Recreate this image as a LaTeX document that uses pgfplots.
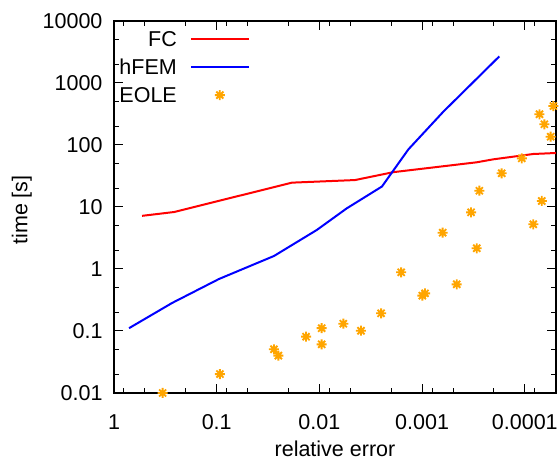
\documentclass[border=0pt]{standalone}
\usepackage{fontspec}
\setmainfont{Liberation Sans}
\usepackage{pgfplots}
\pgfplotsset{compat=1.18}

\definecolor{fcred}{RGB}{255,0,0}
\definecolor{hfemblue}{RGB}{0,0,255}
\definecolor{eoleorange}{RGB}{255,165,0}

% gnuplot-like asterisk: plus and cross on top of each other
\pgfdeclareplotmark{gpstar}{%
  \pgfpathmoveto{\pgfqpoint{-\pgfplotmarksize}{0pt}}%
  \pgfpathlineto{\pgfqpoint{\pgfplotmarksize}{0pt}}%
  \pgfpathmoveto{\pgfqpoint{0pt}{-\pgfplotmarksize}}%
  \pgfpathlineto{\pgfqpoint{0pt}{\pgfplotmarksize}}%
  \pgfpathmoveto{\pgfqpoint{-.707\pgfplotmarksize}{-.707\pgfplotmarksize}}%
  \pgfpathlineto{\pgfqpoint{.707\pgfplotmarksize}{.707\pgfplotmarksize}}%
  \pgfpathmoveto{\pgfqpoint{-.707\pgfplotmarksize}{.707\pgfplotmarksize}}%
  \pgfpathlineto{\pgfqpoint{.707\pgfplotmarksize}{-.707\pgfplotmarksize}}%
  \pgfusepathqstroke}

\begin{document}
\begin{tikzpicture}
\path[use as bounding box] (-114pt,-69pt) rectangle (446pt,393pt);
\begin{axis}[
    at={(0pt,0pt)}, anchor=south west,
    width=442pt, height=372pt, scale only axis,
    xmode=log, ymode=log,
    x dir=reverse,
    xmin=0.0000497, xmax=1,
    ymin=0.01, ymax=10000,
    font=\fontsize{21.5}{26}\selectfont,
    axis line style={line width=1.3pt},
    every tick/.style={black, line width=1pt},
    major tick length=9pt, minor tick length=5pt,
    xtick={1,0.1,0.01,0.001,0.0001},
    xticklabels={1,0.1,0.01,0.001,0.0001},
    minor xtick={0.8,0.5,0.2,0.08,0.05,0.02,0.008,0.005,0.002,0.0008,0.0005,0.0002,0.00008,0.00005},
    ytick={0.01,0.1,1,10,100,1000,10000},
    yticklabels={0.01,0.1,1,10,100,1000,10000},
    minor ytick={0.02,0.05,0.2,0.5,2,5,20,50,200,500,2000,5000},
    xticklabel style={yshift=-18pt},
    yticklabel style={xshift=-8pt},
    xlabel={relative error},
    ylabel={time [s]},
    xlabel style={at={(axis description cs:0.5,-0.171)}, anchor=base},
    ylabel style={at={(axis description cs:-0.196,0.492)}, anchor=base, rotate=0},
    clip mode=individual,
    legend cell align=right,
    legend plot pos=right,
    legend image code/.code={\draw[mark repeat=2,mark phase=2,#1] plot coordinates {(0pt,0pt) (29pt,0pt) (58pt,0pt)};},
    legend style={draw=none, fill=none, inner sep=0pt,
        at={(axis description cs:0.3077,0.972)}, anchor=north east,
        nodes={inner sep=0pt, text height=15pt, text depth=0pt},
        row sep=13pt, column sep=13pt},
]
\addplot[fcred, line width=2pt, mark=none] coordinates {
    (0.533,7.2) (0.26,8.3) (0.0185,24.7) (0.0045,27.2) (0.0019,36.5)
    (0.000294,52.6) (0.000203,58.7) (0.0000826,71.6) (0.0000497,74.3)
};
\addlegendentry{FC}
\addplot[hfemblue, line width=2pt, mark=none] coordinates {
    (0.714,0.111) (0.272,0.283) (0.095,0.69) (0.0277,1.62) (0.0106,4.26)
    (0.00542,9.5) (0.00246,21.4) (0.00136,85) (0.000622,344) (0.000177,2690)
};
\addlegendentry{hFEM}
\addplot[eoleorange, only marks, mark=gpstar, mark size=5pt, line width=1.9pt] coordinates {
    (0.336,0.01) (0.093,0.0202) (0.0277,0.0507) (0.0251,0.040) (0.0135,0.081)
    (0.0095,0.111) (0.0095,0.061) (0.00585,0.131) (0.00394,0.101) (0.00251,0.193)
    (0.0016,0.885) (0.000995,0.371) (0.000937,0.405) (0.000631,3.85) (0.00046,0.566)
    (0.000294,2.16) (0.000277,18.3) (0.000334,8.2) (0.000168,35) (0.000107,61)
    (0.0000684,12.5) (0.0000827,5.26) (0.000072,313) (0.0000645,216) (0.000056,136)
    (0.0000527,425)
};
\addlegendentry{EOLE}
\end{axis}
\end{tikzpicture}
\end{document}
